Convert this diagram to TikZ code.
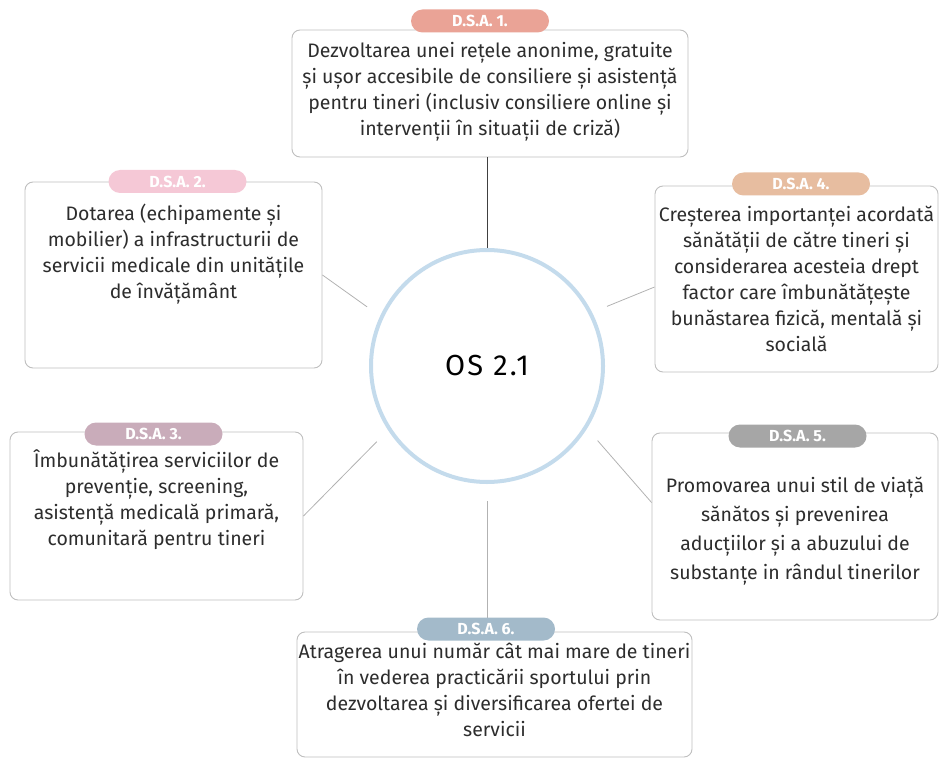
\documentclass[tikz,border=0pt]{standalone}
\usepackage{fontspec}
\setmainfont{Fira Sans}
\definecolor{tagOne}{RGB}{234,163,150}
\definecolor{tagTwo}{RGB}{245,200,214}
\definecolor{tagThree}{RGB}{201,172,186}
\definecolor{tagFour}{RGB}{231,189,160}
\definecolor{tagFive}{RGB}{166,166,166}
\definecolor{tagSix}{RGB}{163,186,202}
\definecolor{ringBlue}{RGB}{196,219,236}
\definecolor{bodyText}{RGB}{45,45,45}
\begin{document}
\begin{tikzpicture}[
    x=1pt, y=-1pt,
    dsaBox/.style={draw=black!25, line width=0.9pt, rounded corners=8pt, fill=white,
        align=center, inner sep=0pt, text=bodyText, font=\fontsize{19.5}{26}\selectfont},
    dsaTag/.style={fill=#1, rounded corners=11.5pt, inner sep=0pt, minimum height=23pt,
        minimum width=138pt, text=white, font=\fontsize{16}{16}\selectfont\bfseries},
    dsaLink/.style={draw=black!30, line width=0.8pt},
]
\useasboundingbox (0,0) rectangle (939,759);

% centre
\node[circle, draw=ringBlue, line width=4pt, minimum size=232pt, inner sep=0pt,
    font=\fontsize{29}{29}\selectfont\addfontfeature{LetterSpace=8}] (os) at (487,366) {OS 2.1};

% boxes
\node[dsaBox, minimum width=396pt, minimum height=127pt] (box1) at (490,93.5) {
Dezvoltarea unei rețele anonime, gratuite\\
și ușor accesibile de consiliere și asistență\\
pentru tineri (inclusiv consiliere online și\\
intervenții în situații de criză)\\[-16pt]};

\node[dsaBox, minimum width=297pt, minimum height=186pt] (box2) at (173.5,275) {
Dotarea (echipamente și\\
mobilier) a infrastructurii de\\
servicii medicale din unitățile\\
de învățământ\\[22pt]};

\node[dsaBox, minimum width=293pt, minimum height=168pt] (box3) at (156.5,516) {
Îmbunătățirea serviciilor de\\
prevenție, screening,\\
asistență medicală primară,\\
comunitară pentru tineri\\[10pt]};

\node[dsaBox, minimum width=283pt, minimum height=186pt] (box4) at (796.5,279) {
Creșterea importanței acordată\\
sănătății de către tineri și\\
considerarea acesteia drept\\
factor care îmbunătățește\\
bunăstarea fizică, mentală și\\
socială};

\node[dsaBox, minimum width=286pt, minimum height=187pt,
    font=\fontsize{19.5}{29}\selectfont] (box5) at (795,526.5) {
\rule{0pt}{25pt}Promovarea unui stil de viață\\
sănătos și prevenirea\\
aducțiilor și a abuzului de\\
substanțe in rândul tinerilor};

\node[dsaBox, minimum width=395pt, minimum height=125pt] (box6) at (494.5,694.5) {
Atragerea unui număr cât mai mare de tineri\\
în vederea practicării sportului prin\\
dezvoltarea și diversificarea ofertei de\\
servicii\\[-16pt]};

% links
\draw[black!75, line width=0.8pt] (os.north) -- (os.north |- box1.south);
\draw[dsaLink, shorten >=16pt] (box2.east) -- (os.155);
\draw[dsaLink, shorten >=16pt] ([yshift=-8pt]box4.west) -- (os.27);
\draw[dsaLink, shorten >=16pt] (box3.east) -- (os.213);
\draw[dsaLink, shorten >=16pt] ([yshift=24pt]box5.west) -- (os.328);
\draw[dsaLink, shorten <=17pt] (os.south) -- (os.south |- box6.north);

% tags
\node[dsaTag=tagOne] (tag1) at (480,21) {D.S.A. 1.};
\node[dsaTag=tagTwo] (tag2) at (177.5,181.5) {D.S.A. 2.};
\node[dsaTag=tagThree] (tag3) at (153.5,434) {D.S.A. 3.};
\node[dsaTag=tagFour] (tag4) at (801,184) {D.S.A. 4.};
\node[dsaTag=tagFive] (tag5) at (797.5,436) {D.S.A. 5.};
\node[dsaTag=tagSix] (tag6) at (486,629) {D.S.A. 6.};
\end{tikzpicture}
\end{document}
